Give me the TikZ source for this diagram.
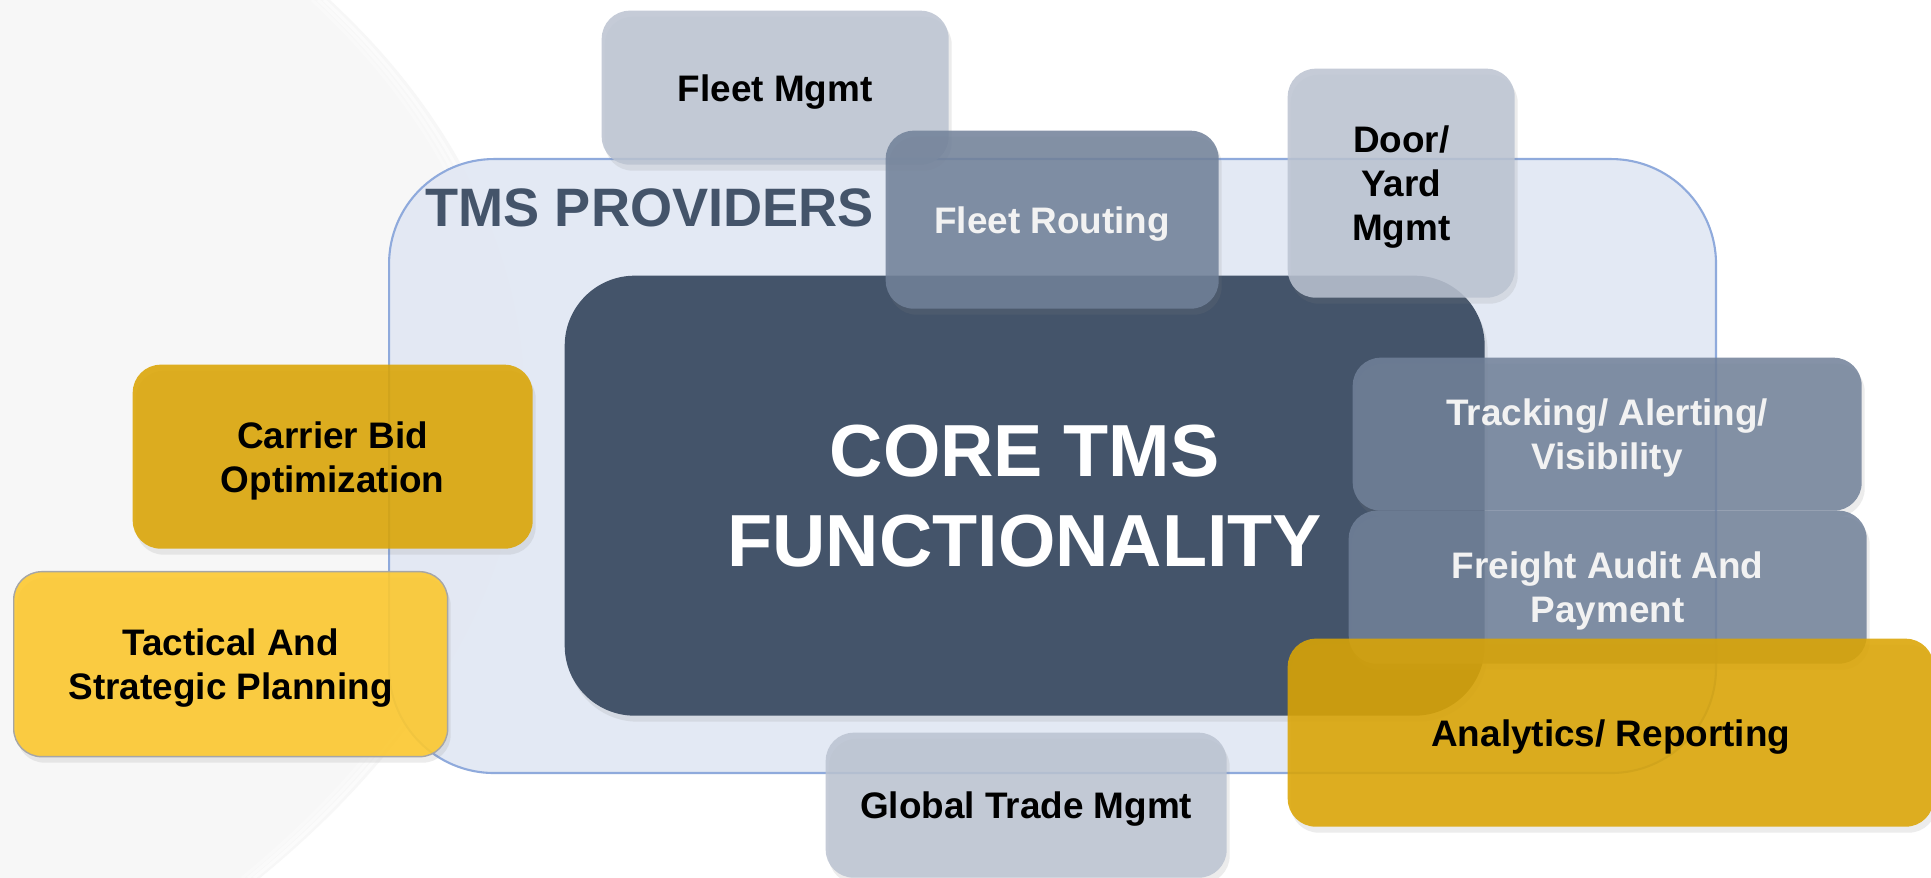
\documentclass[tikz,border=0pt]{standalone}
\usepackage{fontspec}
\setmainfont{Liberation Sans}
\usetikzlibrary{shadows}
\definecolor{slate}{HTML}{44546A}
\definecolor{paleblue}{HTML}{E1E7F3}
\definecolor{edgeblue}{HTML}{8FAADC}
\definecolor{greyfill}{HTML}{BBC3D1}
\definecolor{steelfill}{HTML}{718199}
\definecolor{goldfill}{HTML}{DBA504}
\definecolor{sunfill}{HTML}{FDC930}
\definecolor{bggrey}{HTML}{F7F7F7}
\begin{document}
\begin{tikzpicture}[x=0.1mm,y=-0.1mm,
  box/.style={rounded corners=2.8mm,anchor=north west,align=center,inner sep=0pt,text depth=0pt,
    font=\fontsize{10.5}{12.5}\selectfont\bfseries,text opacity=1,
    drop shadow={shadow xshift=0.3mm,shadow yshift=-0.6mm,opacity=0.15}},
  greybox/.style={box,fill=greyfill,fill opacity=0.85,text=black},
  steelbox/.style={box,fill=steelfill,fill opacity=0.86,text=white!95!black},
  goldbox/.style={box,fill=goldfill,fill opacity=0.88,text=black}]
\useasboundingbox (0,0) rectangle (1931,878);
\fill[white] (0,0) rectangle (1931,878);
% background sweep
\fill[bggrey] (0,0) -- (330,0) .. controls (600,250) and (600,600) .. (260,878) -- (0,878) -- cycle;
\foreach \d/\o in {6/0.6,12/0.45,18/0.3}{
  \draw[white,line width=0.3mm,opacity=\o] (330-\d,0) .. controls (600-\d,250) and (600-\d,600) .. (260-\d,878);
}
% providers frame
\node[draw=edgeblue,line width=0.6pt,fill=paleblue,fill opacity=0.9,rounded corners=10.5mm,
  anchor=north west,minimum width=132.7mm,minimum height=61.4mm,inner sep=0pt] (providers) at (388,158) {};
\node[anchor=base west,inner sep=0pt,text=slate,font=\fontsize{15.4}{18}\selectfont\bfseries] (providerstitle) at (425,227) {TMS PROVIDERS};
% core
\node[box,fill=slate,text=white,rounded corners=7mm,minimum width=92mm,minimum height=44mm,
  font=\fontsize{21}{25.6}\selectfont\bfseries] (core) at (564,275) {CORE TMS\\FUNCTIONALITY};
% surrounding modules
\node[greybox,minimum width=34.7mm,minimum height=15.4mm] (fleetmgmt) at (601,10) {Fleet Mgmt};
\node[steelbox,minimum width=33.3mm,minimum height=17.8mm] (fleetrouting) at (885,130) {Fleet Routing};
\node[greybox,minimum width=22.7mm,minimum height=22.9mm] (dooryard) at (1287,68) {Door/\\Yard\\Mgmt};
\node[steelbox,minimum width=50.9mm,minimum height=15.3mm] (tracking) at (1352,357) {Tracking/ Alerting/\\Visibility};
\node[steelbox,minimum width=51.8mm,minimum height=15.3mm] (freight) at (1348,510) {Freight Audit And\\Payment};
\node[goldbox,minimum width=64.6mm,minimum height=18.8mm] (analytics) at (1287,638) {Analytics/ Reporting};
\node[greybox,minimum width=40.1mm,minimum height=14.5mm] (globaltrade) at (825,732) {Global Trade Mgmt};
\node[goldbox,minimum width=40mm,minimum height=18.4mm] (carrierbid) at (132,364) {Carrier Bid\\Optimization};
\node[box,fill=sunfill,fill opacity=0.9,draw=gray!70,line width=0.4pt,text=black,
  minimum width=43.4mm,minimum height=18.5mm] (planning) at (13,571) {Tactical And\\Strategic Planning};
\end{tikzpicture}
\end{document}
